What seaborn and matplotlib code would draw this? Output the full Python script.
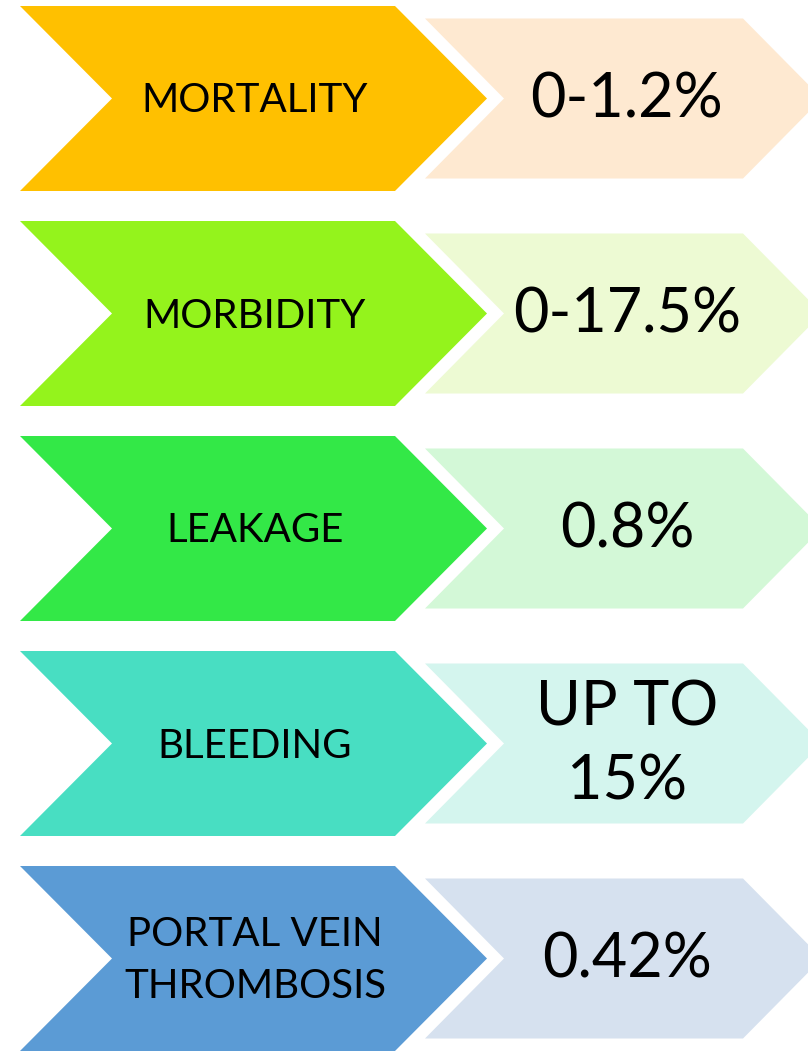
import matplotlib
matplotlib.use("Agg")
import matplotlib.pyplot as plt
from matplotlib.patches import Polygon
import seaborn as sns

# Chart content
labels = ["MORTALITY", "MORBIDITY", "LEAKAGE", "BLEEDING", "PORTAL VEIN\nTHROMBOSIS"]
values = ["0-1.2%", "0-17.5%", "0.8%", "UP TO\n15%", "0.42%"]
dark_colors = ["#FFC000", "#94F31C", "#33E847", "#48DEC2", "#5B9BD5"]
light_colors = ["#FEE9D1", "#EDFAD3", "#D3F8D7", "#D4F5EE", "#D6E1EF"]

W, H = 808, 1052
ROW0 = 98.5      # centre of first row (px)
PITCH = 215      # distance between rows


def chevron(x_left, x_right, cy, half_h, depth):
    """Chevron polygon: notched on the left, pointed on the right."""
    return [
        (x_left, cy - half_h),
        (x_right - depth, cy - half_h),
        (x_right, cy),
        (x_right - depth, cy + half_h),
        (x_left, cy + half_h),
        (x_left + depth, cy),
    ]


sns.set_theme(style="white")
plt.rcParams["font.family"] = ["Lato", "DejaVu Sans"]

fig = plt.figure(figsize=(W / 100, H / 100), dpi=100)
ax = fig.add_axes([0, 0, 1, 1])
ax.set_xlim(0, W)
ax.set_ylim(H, 0)
ax.axis("off")

for i, (lab, val) in enumerate(zip(labels, values)):
    cy = ROW0 + PITCH * i

    # big coloured chevron with the category
    ax.add_patch(Polygon(chevron(20, 487, cy, 92.5, 92), closed=True,
                         facecolor=dark_colors[i], edgecolor="none"))
    # pale chevron with the figure (runs off the right edge)
    ax.add_patch(Polygon(chevron(425, 822, cy, 80, 79), closed=True,
                         facecolor=light_colors[i], edgecolor="none"))

    lines = lab.split("\n")
    n = len(lines)
    for k, line in enumerate(lines):
        ax.text(255, cy + 14 + 52 * (k - (n - 1) / 2), line,
                ha="center", va="baseline", fontsize=29, color="black")

    lines = val.split("\n")
    n = len(lines)
    for k, line in enumerate(lines):
        ax.text(627, cy + 19 + 74 * (k - (n - 1) / 2), line,
                ha="center", va="baseline", fontsize=44, color="black")

fig.savefig("out.png", dpi=100)
plt.close(fig)
